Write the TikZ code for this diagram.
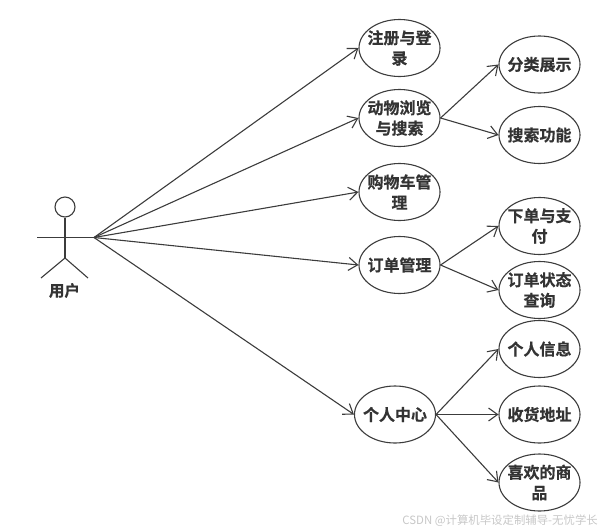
\documentclass[tikz,border=0pt]{standalone}
\usepackage{fontspec}
\setmainfont{Liberation Sans}
\newfontfamily\cjkb[FakeBold=0.5]{Noto Sans CJK SC Bold}
\newfontfamily\cjkr{Noto Sans CJK SC}
\usetikzlibrary{shapes.geometric,arrows.meta}
\definecolor{ink}{RGB}{60,60,60}
\tikzset{
  usecase/.style={draw=ink,line width=1.1pt,ellipse,minimum width=81pt,minimum height=57pt,inner xsep=-6pt,inner ysep=-4pt,align=center,
    font=\cjkb\fontsize{16}{20.5}\selectfont,text=ink!85!black},
  link/.style={draw=ink,line width=1.1pt,-{Straight Barb[length=9pt,width=13pt,line width=1.1pt]}},
  stick/.style={draw=ink,line width=1.1pt}
}
\begin{document}
\begin{tikzpicture}[x=1pt,y=-1pt]
\useasboundingbox (0,0) rectangle (600,531);
% actor
\node[draw=ink,line width=1.1pt,circle,minimum size=20pt,inner sep=0pt] (head) at (65,207) {};
\coordinate (hip) at (65,258);
\coordinate (armL) at (37,237.5);
\coordinate (hub) at (94,237.5);
\coordinate (legL) at (41,278);
\coordinate (legR) at (88,278);
\draw[stick] (head.south) -- (hip);
\draw[stick] (armL) -- (hub);
\draw[stick] (legL) -- (hip) -- (legR);
\node[font=\cjkb\fontsize{15.5}{17}\selectfont,text=ink!85!black,inner sep=0pt] (actorlabel) at (64.5,290.5) {用户};
% use cases
\node[usecase] (reg) at (399.5,48) {注册与登\\录};
\node[usecase] (browse) at (399.5,118) {动物浏览\\与搜索};
\node[usecase] (cart) at (399.5,192) {购物车管\\理};
\node[usecase] (order) at (399.5,265) {订单管理};
\node[usecase] (center) at (395,414.5) {个人中心};
\node[usecase] (cat) at (539.5,64.5) {分类展示};
\node[usecase] (search) at (539.5,135) {搜索功能};
\node[usecase] (pay) at (539.5,226) {下单与支\\付};
\node[usecase] (status) at (539.5,290) {订单状态\\查询};
\node[usecase] (info) at (539.5,349) {个人信息};
\node[usecase] (addr) at (539.5,414.5) {收货地址};
\node[usecase] (fav) at (539.5,482.5) {喜欢的商\\品};
% links
\draw[link] (hub) -- (reg.west);
\draw[link] (hub) -- (browse.west);
\draw[link] (hub) -- (cart.west);
\draw[link] (hub) -- (order.west);
\draw[link] (hub) -- (center.west);
\draw[link] (browse.east) -- (cat.west);
\draw[link] (browse.east) -- (search.west);
\draw[link] (order.east) -- (pay.west);
\draw[link] (order.east) -- (status.west);
\draw[link] (center.east) -- (info.west);
\draw[link] (center.east) -- (addr.west);
\draw[link] (center.east) -- (fav.west);
% watermark
\node[anchor=east,inner sep=0pt,text=black!22,font=\cjkr\fontsize{11.4}{13}\selectfont] (mark) at (598,521) {CSDN @计算机毕设定制辅导-无忧学长};
\end{tikzpicture}
\end{document}
